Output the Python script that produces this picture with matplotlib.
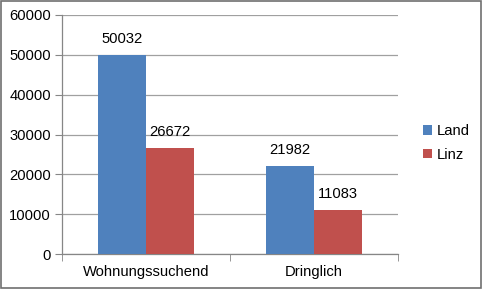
import matplotlib
matplotlib.use("Agg")
import matplotlib.pyplot as plt
import numpy as np
from matplotlib.patches import Rectangle

categories = ["Wohnungssuchend", "Dringlich"]
series_names = ["Land", "Linz"]
land = [50032, 21982]
linz = [26672, 11083]
yticks = [0, 10000, 20000, 30000, 40000, 50000, 60000]

plt.rcParams['font.family'] = ['Liberation Sans', 'DejaVu Sans']
FS = 10.6

fig = plt.figure(figsize=(4.82, 2.89), dpi=100)
ax = fig.add_axes([62/482, 1-254/289, 336/482, 239/289])

x = np.arange(len(categories))
w = 0.283
colors = ["#4F81BD", "#C0504D"]
b1 = ax.bar(x - w/2, land, w, color=colors[0], label=series_names[0], zorder=3)
b2 = ax.bar(x + w/2, linz, w, color=colors[1], label=series_names[1], zorder=3)
for bars in (b1, b2):
    for r in bars:
        ax.text(r.get_x() + r.get_width()/2, r.get_height() + 2300, f"{int(r.get_height())}",
                ha='center', va='bottom', fontsize=FS, color='black')

ax.set_xlim(-0.5, 1.5)
ax.set_ylim(0, 60000)
ax.set_yticks(yticks)
ax.set_yticklabels([str(t) for t in yticks], fontsize=FS)
ax.set_xticks(x)
ax.set_xticklabels(categories, fontsize=FS)
ax.set_xticks([-0.5, 0.5, 1.5], minor=True)
ax.tick_params(axis='x', which='major', length=0, pad=8)
ax.tick_params(axis='x', which='minor', length=5, color='#868686', direction='out')
ax.tick_params(axis='y', length=5, color='#868686', direction='out', pad=3)
ax.yaxis.grid(True, color='#A0A0A0', linewidth=0.9, zorder=0)
for s in ['top', 'right']:
    ax.spines[s].set_visible(False)
for s in ['left', 'bottom']:
    ax.spines[s].set_color('#868686')
    ax.spines[s].set_linewidth(0.9)

leg = fig.legend(handles=[b1, b2], labels=series_names, loc='center left',
                 bbox_to_anchor=(410/482, 1-143/289), frameon=False, fontsize=FS,
                 handlelength=0.6, handleheight=0.6, handletextpad=0.3, labelspacing=0.65)

fig.patches.append(Rectangle((0.002, 0.003), 0.996, 0.994, transform=fig.transFigure,
                             fill=False, edgecolor='#707070', linewidth=1.2))

fig.savefig("out.png", dpi=100)
